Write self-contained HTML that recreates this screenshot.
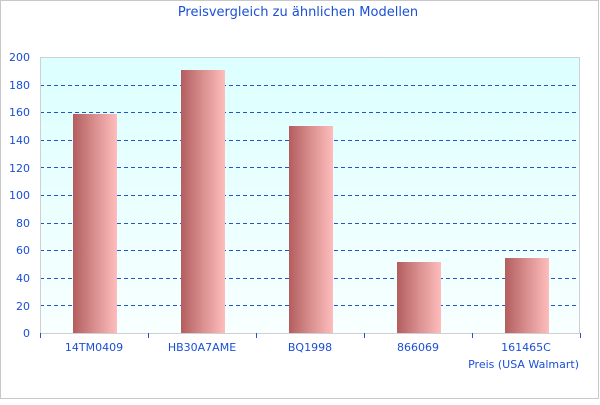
<!DOCTYPE html>
<html><head><meta charset="utf-8"><style>
body{margin:0;background:#fff}
svg text{font-family:"DejaVu Sans",sans-serif;font-size:11px;fill:#1a4fd6}
</style></head><body>
<svg width="600" height="400" xmlns="http://www.w3.org/2000/svg">
<defs>
<linearGradient id="bg" x1="0" y1="0" x2="0" y2="1"><stop offset="0" stop-color="#dcffff"/><stop offset="1" stop-color="#f8ffff"/></linearGradient>
<linearGradient id="bar" x1="0" y1="0" x2="1" y2="0"><stop offset="0" stop-color="#b35d5f"/><stop offset="0.5" stop-color="#d9908f"/><stop offset="1" stop-color="#ffbcbc"/></linearGradient>
</defs>
<rect x="0.5" y="0.5" width="598" height="398" fill="#fff" stroke="#c8c8c8"/>
<text x="298" y="16" text-anchor="middle" style="font-size:13px">Preisvergleich zu ähnlichen Modellen</text>
<rect x="40" y="57" width="540" height="276" fill="url(#bg)"/>
<g stroke="#2255cc" stroke-dasharray="4,3" stroke-width="1">
<line x1="40" x2="580" y1="85.5" y2="85.5"/><line x1="40" x2="580" y1="112.5" y2="112.5"/>
<line x1="40" x2="580" y1="140.5" y2="140.5"/><line x1="40" x2="580" y1="167.5" y2="167.5"/>
<line x1="40" x2="580" y1="195.5" y2="195.5"/><line x1="40" x2="580" y1="223.5" y2="223.5"/>
<line x1="40" x2="580" y1="250.5" y2="250.5"/><line x1="40" x2="580" y1="278.5" y2="278.5"/>
<line x1="40" x2="580" y1="305.5" y2="305.5"/>
</g>
<rect x="73" y="114" width="44" height="219" fill="url(#bar)"/>
<rect x="181" y="70" width="44" height="263" fill="url(#bar)"/>
<rect x="289" y="126" width="44" height="207" fill="url(#bar)"/>
<rect x="397" y="262" width="44" height="71" fill="url(#bar)"/>
<rect x="505" y="258" width="44" height="75" fill="url(#bar)"/>
<rect x="40.5" y="57.5" width="539" height="276" fill="none" stroke="#d0d0d0"/>
<g stroke="#2255cc"><line x1="40.5" x2="40.5" y1="333" y2="338"/><line x1="148.5" x2="148.5" y1="333" y2="338"/><line x1="256.5" x2="256.5" y1="333" y2="338"/><line x1="364.5" x2="364.5" y1="333" y2="338"/><line x1="472.5" x2="472.5" y1="333" y2="338"/><line x1="580.5" x2="580.5" y1="333" y2="338"/></g>
<g text-anchor="end">
<text x="30" y="61">200</text><text x="30" y="89">180</text><text x="30" y="116">160</text><text x="30" y="144">140</text><text x="30" y="172">120</text><text x="30" y="199">100</text><text x="30" y="227">80</text><text x="30" y="254">60</text><text x="30" y="282">40</text><text x="30" y="310">20</text><text x="30" y="337">0</text>
</g>
<g text-anchor="middle">
<text x="94" y="351">14TM0409</text><text x="202" y="351">HB30A7AME</text><text x="310" y="351">BQ1998</text><text x="418" y="351">866069</text><text x="526" y="351">161465C</text>
</g>
<text x="579" y="368" text-anchor="end">Preis (USA Walmart)</text>
</svg>
</body></html>
